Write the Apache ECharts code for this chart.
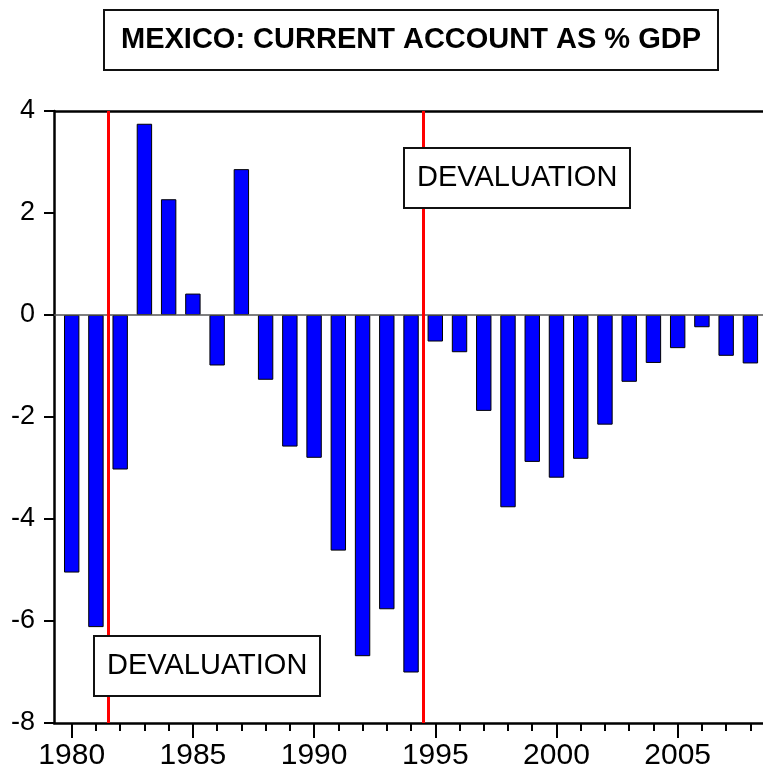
<!DOCTYPE html>
<html>
<head>
<meta charset="utf-8">
<script src="https://cdn.jsdelivr.net/npm/echarts@6/dist/echarts.min.js"></script>
<style>
html,body{margin:0;padding:0;background:#fff;}
#chart{width:763px;height:775px;}
</style>
</head>
<body>
<div id="chart"></div>
<script>
var years = [1980,1981,1982,1983,1984,1985,1986,1987,1988,1989,1990,1991,1992,1993,1994,
             1995,1996,1997,1998,1999,2000,2001,2002,2003,2004,2005,2006,2007,2008];
var currentAccount = [-5.05,-6.12,-3.03,3.75,2.27,0.42,-0.99,2.86,-1.27,-2.58,-2.80,-4.62,-6.69,-5.77,-7.01,
                      -0.52,-0.73,-1.88,-3.77,-2.88,-3.19,-2.82,-2.15,-1.31,-0.94,-0.65,-0.24,-0.80,-0.95];
var devaluations = [1981.5, 1994.5];
var xLabelYears = [1980,1985,1990,1995,2000,2005];
var titleText = 'MEXICO: CURRENT ACCOUNT AS % GDP';
var noteText = 'DEVALUATION';

var FONT = '"Liberation Sans", Arial, sans-serif';
var chart = echarts.init(document.getElementById('chart'), null, {renderer:'canvas'});

var barData = years.map(function(y,i){ return [y, currentAccount[i]]; });

var boxStyle = function(left, top){
  return {
    text: noteText, left: left, top: top,
    borderColor:'#111', borderWidth:2, backgroundColor:'#fff',
    padding:[15,13],
    textStyle:{fontFamily:FONT, fontSize:29, fontWeight:'normal', color:'#000', lineHeight:30}
  };
};

var option = {
  animation:false,
  backgroundColor:'#fff',
  title:[
    {
      text:titleText, left:104, top:10,
      borderColor:'#111', borderWidth:2, padding:[15,17],
      textStyle:{fontFamily:FONT, fontSize:29, fontWeight:'bold', color:'#000', lineHeight:30}
    },
    boxStyle(94, 636), boxStyle(404, 148)
  ],
  grid:{left:54, right:0, top:111, bottom:52, containLabel:false},
  xAxis:[
    {
      type:'value', min:1979.27, max:2008.52, position:'bottom',
      axisLine:{show:true, onZero:false, lineStyle:{color:'#000', width:2.5}},
      axisTick:{show:true, customValues:xLabelYears, length:15, inside:false, lineStyle:{color:'#000', width:2}},
      axisLabel:{customValues:xLabelYears, margin:18, fontFamily:FONT, fontSize:30, color:'#000',
                 formatter:function(v){return String(v);}},
      splitLine:{show:false}
    },
    {
      type:'value', min:1979.27, max:2008.52, position:'bottom',
      axisLine:{show:false, onZero:false},
      axisTick:{show:true, customValues:years, length:8, inside:false, lineStyle:{color:'#000', width:2}},
      axisLabel:{show:false},
      splitLine:{show:false}
    }
  ],
  yAxis:{
    type:'value', min:-8, max:4, interval:2,
    axisLine:{show:true, onZero:false, lineStyle:{color:'#000', width:2.5}},
    axisTick:{show:true, length:10, lineStyle:{color:'#000', width:2}},
    axisLabel:{margin:19, fontFamily:FONT, fontSize:27, color:'#000'},
    splitLine:{show:false}
  },
  series:[
    {
      type:'bar', xAxisIndex:0, data:barData, barWidth:15.4,
      itemStyle:{color:'#0000FF', borderColor:'#000', borderWidth:1},
      markLine:{
        silent:true, symbol:['none','none'], label:{show:false},
        data:[
          {yAxis:0, lineStyle:{color:'#555', width:1.5, type:'solid'}},
          {yAxis:4, lineStyle:{color:'#000', width:2.5, type:'solid'}}
        ].concat(devaluations.map(function(d){
          return {xAxis:d, lineStyle:{color:'#FF0000', width:3, type:'solid'}};
        }))
      }
    }
  ]
};
chart.setOption(option);
</script>
</body>
</html>
